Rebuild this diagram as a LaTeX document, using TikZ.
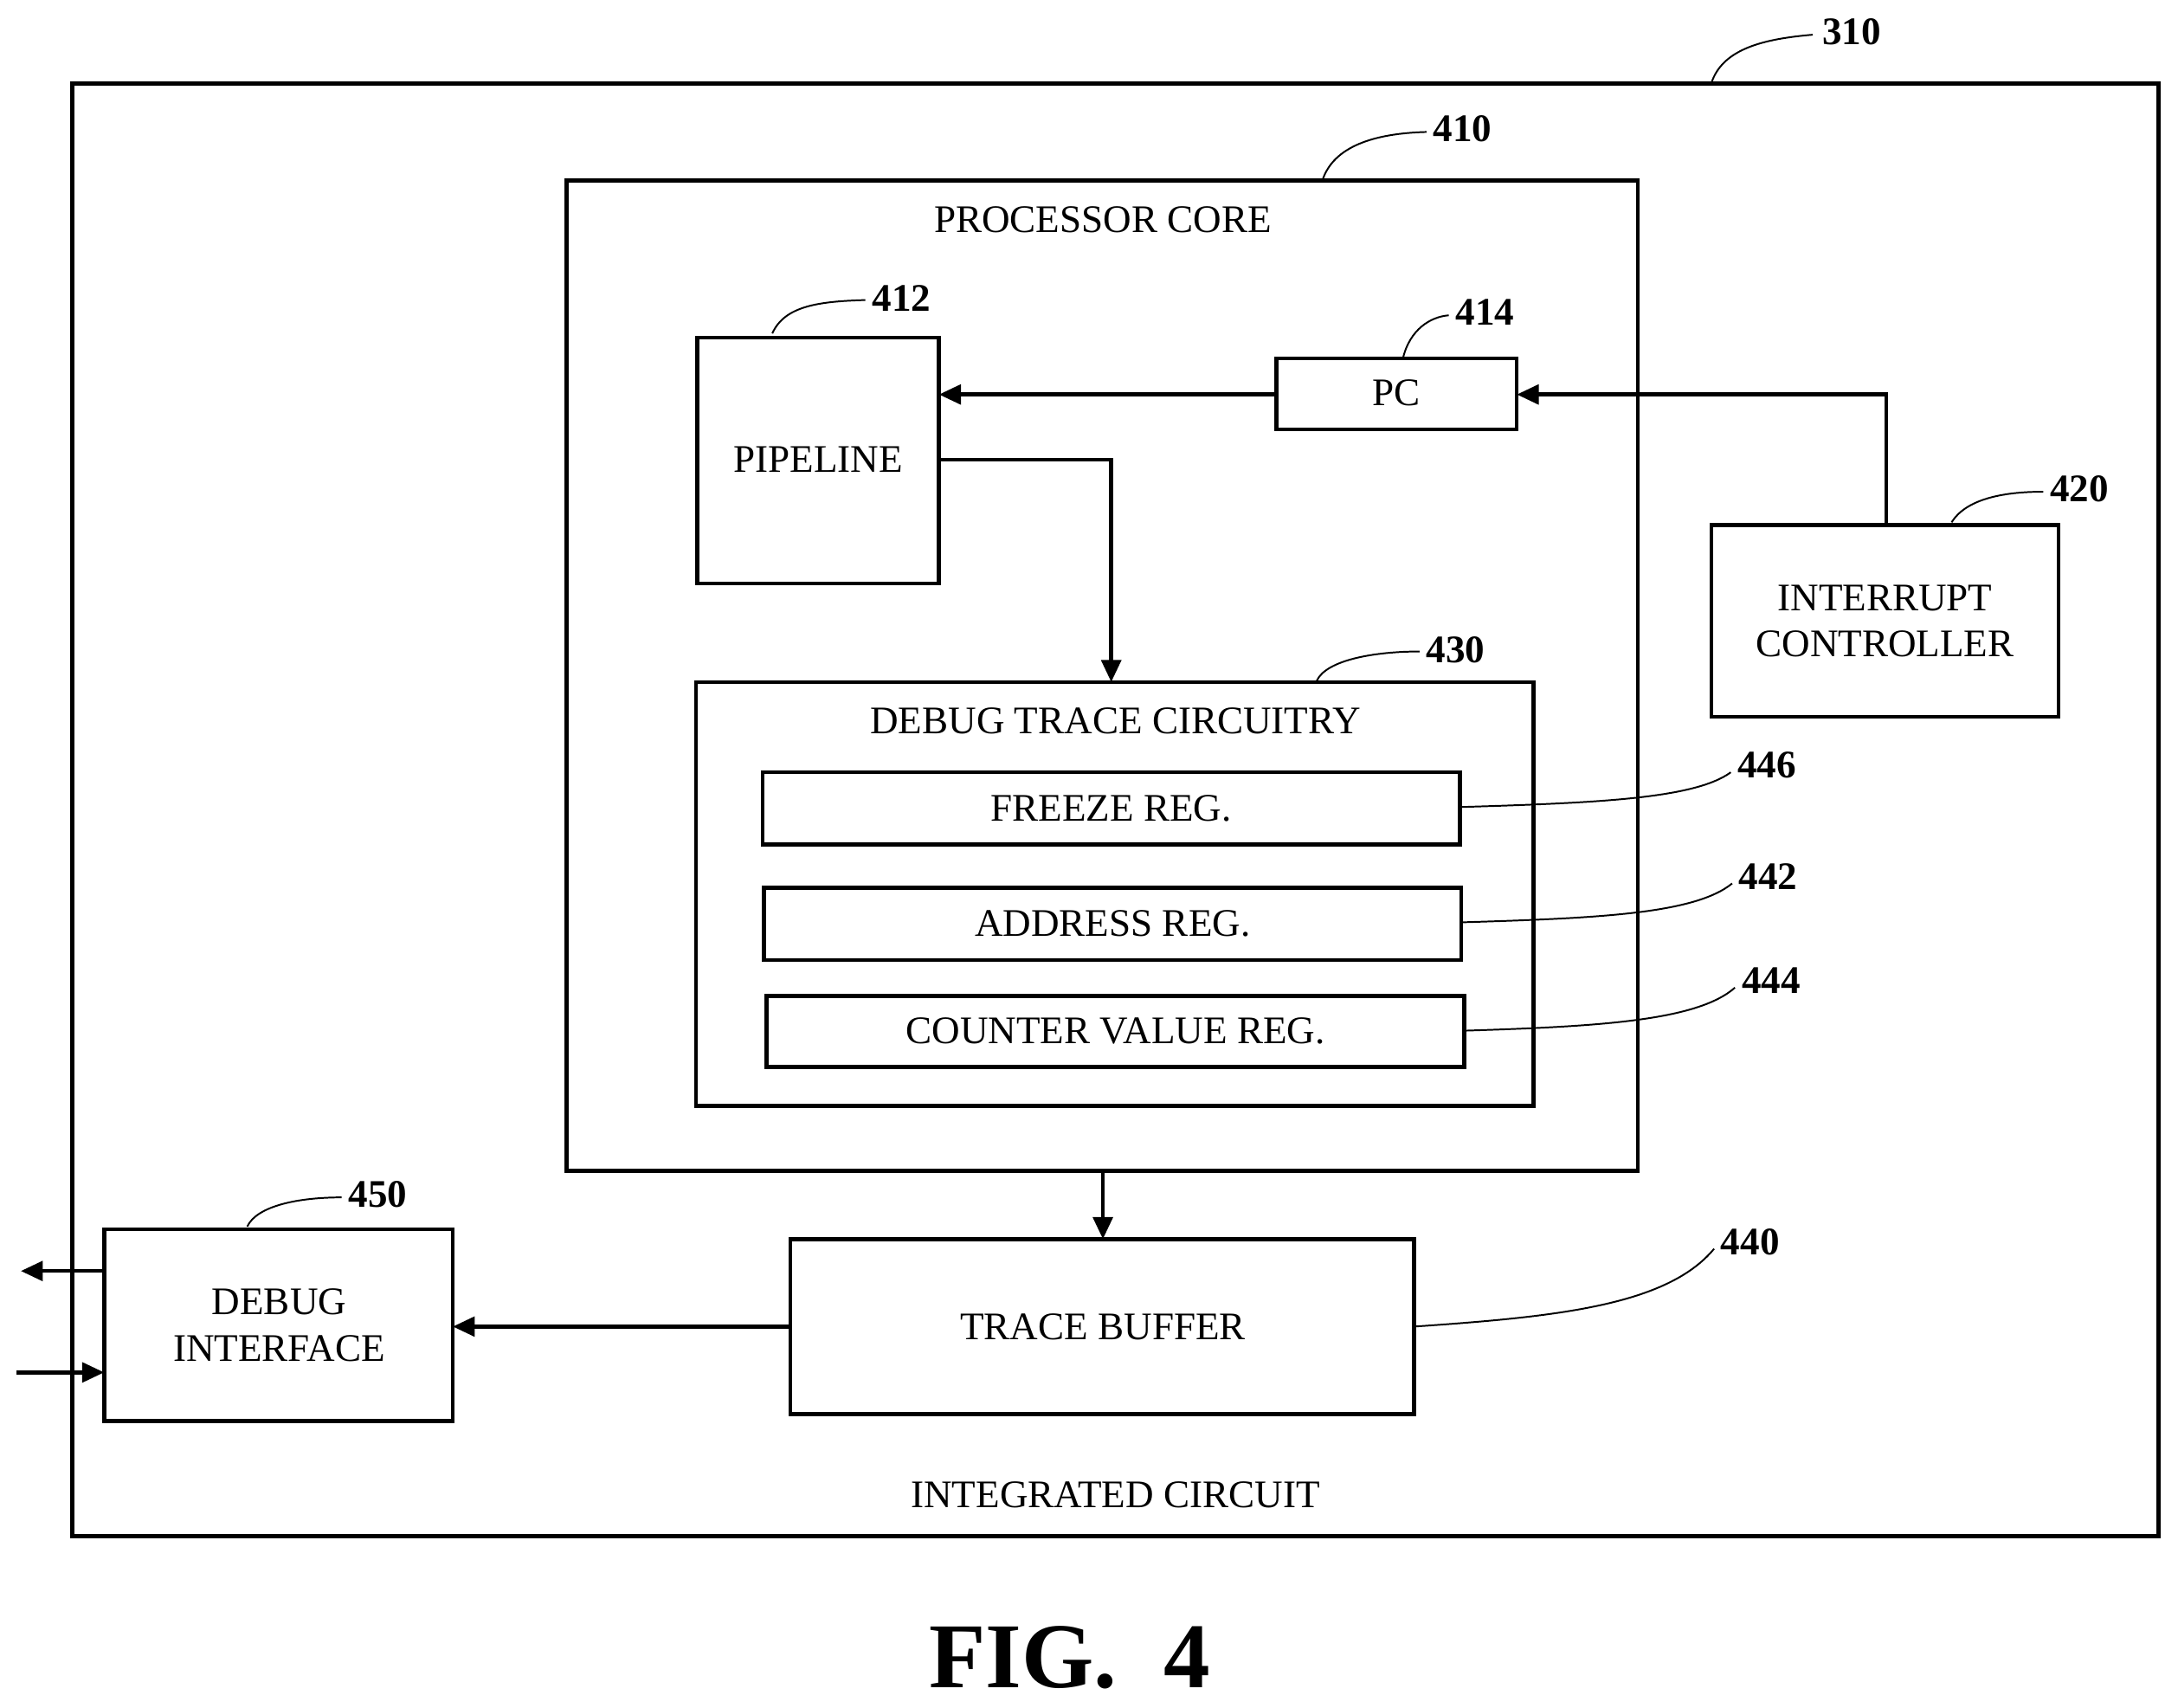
\documentclass[tikz,border=0pt]{standalone}
\usepackage{fontspec}
\setmainfont{Liberation Serif}
\usetikzlibrary{arrows.meta}
\begin{document}
\begin{tikzpicture}[x=0.02cm,y=-0.02cm,
 box/.style={draw,line width=1.6pt},
 txt/.style={font=\fontsize{16}{19}\selectfont,align=center},
 lab/.style={font=\bfseries\fontsize{16}{19}\selectfont},
 ld/.style={line width=0.7pt},
 ar/.style={line width=1.6pt,-{Triangle[length=9pt,width=8pt]}}]
\useasboundingbox (0,0) rectangle (1568,1229);
\draw[box] (52,60) rectangle (1554,1106);
\draw[box] (408,130) rectangle (1179,843);
\node[txt] (pct) at (794,158) {PROCESSOR CORE};
\draw[box] (502,243) rectangle (676,420);
\node[txt] (pl) at (589,331) {PIPELINE};
\draw[box] (919,258) rectangle (1092,309);
\node[txt] (pc) at (1005,283) {PC};
\draw[box] (1232,378) rectangle (1482,516);
\node[txt] (ic) at (1357,447) {INTERRUPT\\CONTROLLER};
\draw[box] (501,491) rectangle (1104,796);
\node[txt] (dt) at (803,519) {DEBUG TRACE CIRCUITRY};
\draw[box] (549,556) rectangle (1051,608); \node[txt] (fr) at (800,582) {FREEZE REG.};
\draw[box] (550,639) rectangle (1052,691); \node[txt] (ad) at (801,665) {ADDRESS REG.};
\draw[box] (552,717) rectangle (1054,768); \node[txt] (cv) at (803,742) {COUNTER VALUE REG.};
\draw[box] (569,892) rectangle (1018,1018); \node[txt] (tb) at (794,955) {TRACE BUFFER};
\draw[box] (75,885) rectangle (326,1023); \node[txt] (di) at (201,954) {DEBUG\\INTERFACE};
\node[txt] (icl) at (803,1076) {INTEGRATED CIRCUIT};
\node[font=\bfseries\fontsize{38}{44}\selectfont] (fig) at (770,1193) {FIG.\ \ 4};
% labels
\node[lab] (l310) at (1333,23) {310};
\node[lab] (l410) at (1053,93) {410};
\node[lab] (l412) at (649,215) {412};
\node[lab] (l414) at (1069,225) {414};
\node[lab] (l420) at (1497,352) {420};
\node[lab] (l430) at (1048,468) {430};
\node[lab] (l446) at (1272,551) {446};
\node[lab] (l442) at (1273,631) {442};
\node[lab] (l444) at (1275,706) {444};
\node[lab] (l440) at (1260,894) {440};
\node[lab] (l450) at (272,860) {450};
\draw[ld] (1232,60) .. controls (1240,35) and (1270,28) .. (1305,25);
\draw[ld] (952,130) .. controls (960,105) and (990,96) .. (1027,95);
\draw[ld] (556,240) .. controls (565,220) and (590,217) .. (623,216);
\draw[ld] (1010,258) .. controls (1015,237) and (1030,228) .. (1043,227);
\draw[ld] (1405,376) .. controls (1415,360) and (1440,354) .. (1471,354);
\draw[ld] (948,490) .. controls (955,475) and (990,469) .. (1022,469);
\draw[ld] (1051,581) .. controls (1150,578) and (1220,575) .. (1246,556);
\draw[ld] (1052,664) .. controls (1150,661) and (1220,658) .. (1247,636);
\draw[ld] (1054,742) .. controls (1150,739) and (1222,735) .. (1249,711);
\draw[ld] (1018,955) .. controls (1120,948) and (1200,940) .. (1234,899);
\draw[ld] (178,883) .. controls (185,868) and (215,862) .. (246,862);
% arrows
\draw[ar] (919,284) -- (676,284);
\draw[ar] (1358,378) -- (1358,284) -- (1092,284);
\draw[ar] (676,331) -- (800,331) -- (800,491);
\draw[ar] (794,843) -- (794,892);
\draw[ar] (569,955) -- (326,955);
\draw[ar] (75,915) -- (15,915);
\draw[ar] (12,988) -- (75,988);
\end{tikzpicture}
\end{document}
